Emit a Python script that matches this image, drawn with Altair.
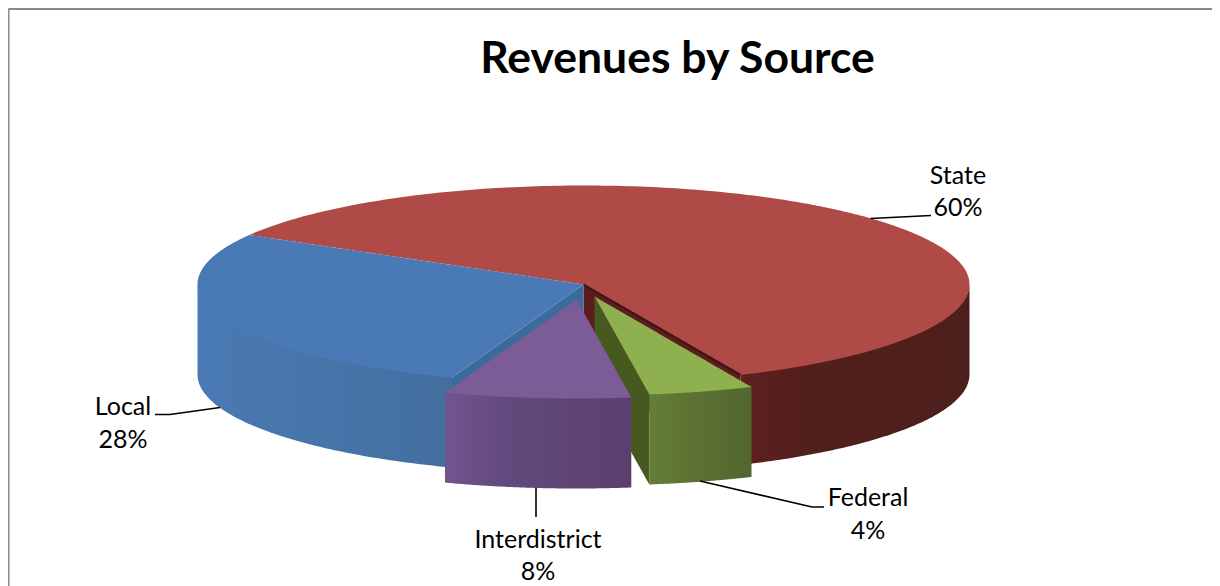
import math
import altair as alt

# ---- data
sources = ["State", "Federal", "Interdistrict", "Local"]
shares = [60.0, 4.4, 7.8, 27.8]

# ---- pie styling and layout
top_colors = {"State": "#b04a46", "Federal": "#8fb04f", "Interdistrict": "#7b5c97", "Local": "#4a7ab5"}
wall_stops = {
    "State": ["#5e2020", "#511f1c", "#4d1f1c"],
    "Federal": ["#647e38", "#5e7534", "#53662e"],
    "Interdistrict": ["#72558f", "#634a7e", "#5a406f"],
    "Local": ["#4a7ab4", "#4877ae", "#436f9f"],
}
cut_colors = {"State": "#5c1c1e", "Federal": "#46591f", "Local": "#3b6a9c"}
explode = {"State": (0, 0), "Federal": (11, 12), "Interdistrict": (-7, 15), "Local": (0, 0)}
CX, CY, RX, RY, DEPTH = 583.5, 284.5, 386.0, 99.0, 90.0
START_ANGLE = 150.0
FONT = "Lato"

# labels: centre x, first-line y, second-line y
label_layout = {
    "State": (958, 176, 208),
    "Local": (123, 407, 440),
    "Interdistrict": (538, 540, 572),
    "Federal": (868, 498, 531),
}
leaders = {
    "State": [(870.5, 218.5), (931, 215.5)],
    "Local": [(155, 414.5), (170, 414.5), (220, 407.5)],
    "Interdistrict": [(536, 488), (536, 517)],
    "Federal": [(700, 481), (812, 507), (824, 507)],
}
frame = {"left": [(8.5, 9), (8.5, 586)], "top": [(8.5, 9), (1212, 9)]}

# ---- slice angles follow from the shares
spans = {}
a = START_ANGLE
for name, share in zip(sources, shares):
    b = a - share * 3.6
    spans[name] = (a, b)
    a = b


def rim(name, deg, depth=0.0):
    dx, dy = explode[name]
    t = math.radians(deg)
    return (CX + dx + RX * math.cos(t), CY + dy - RY * math.sin(t) + depth)


def apex(name, depth=0.0):
    dx, dy = explode[name]
    return (CX + dx, CY + dy + depth)


def arc(name, a0, a1, depth=0.0, n=90):
    return [rim(name, a0 + (a1 - a0) * i / n, depth) for i in range(n + 1)]


def to_area(poly):
    """Turn a polygon into x / y / y2 rows, one per vertical cross-section."""
    xs = sorted({round(p[0], 3) for p in poly})
    rows = []
    m = len(poly)
    for x in xs:
        ys = []
        for i in range(m):
            (x0, y0), (x1, y1) = poly[i], poly[(i + 1) % m]
            lo, hi = min(x0, x1), max(x0, x1)
            if lo - 0.002 <= x <= hi + 0.002:
                if abs(x1 - x0) < 1e-6:
                    ys += [y0, y1]
                else:
                    f = min(1, max(0, (x - x0) / (x1 - x0)))
                    ys.append(y0 + f * (y1 - y0))
        rows.append({"x": x, "y": min(ys), "y2": max(ys)})
    return rows


X = alt.X("x:Q", scale=alt.Scale(domain=[8, 1212], nice=False, zero=False), axis=None)
Y = alt.Y("y:Q", scale=alt.Scale(domain=[586, 8], nice=False, zero=False), axis=None)


def area(poly, fill):
    return (
        alt.Chart(alt.Data(values=to_area(poly)))
        .mark_area(fill=fill, stroke=None, interpolate="linear")
        .encode(x=X, y=Y, y2="y2:Q")
    )


def gradient(name):
    c = wall_stops[name]
    return alt.Gradient(
        gradient="linear", x1=0, y1=0, x2=1, y2=0,
        stops=[alt.GradientStop(offset=0, color=c[0]),
               alt.GradientStop(offset=0.3, color=c[1]),
               alt.GradientStop(offset=1, color=c[2])],
    )


def wall(name, a0, a1):
    # the upper edge runs 1px under the slice's top so no seam shows along the rim
    return area(arc(name, a0, a1, -1.0) + arc(name, a1, a0, DEPTH), gradient(name))


def cut(name, deg):
    poly = [apex(name), rim(name, deg), rim(name, deg, DEPTH), apex(name, DEPTH)]
    return area(poly, cut_colors[name])


def top(name):
    a0, a1 = spans[name]
    return area([apex(name)] + arc(name, a0, a1, n=240), top_colors[name])


def polyline(points, color, width):
    rows = [{"x": p[0], "y": p[1], "i": i} for i, p in enumerate(points)]
    return (
        alt.Chart(alt.Data(values=rows))
        .mark_line(color=color, strokeWidth=width, interpolate="linear")
        .encode(x=X, y=Y, order="i:Q")
    )


layers = []
# main body, back to front
layers.append(wall("State", 0, spans["State"][1]))
layers.append(cut("State", spans["State"][1]))
layers.append(wall("Local", -180, spans["Interdistrict"][1]))
layers.append(cut("Local", spans["Interdistrict"][1]))
layers.append(top("State"))
layers.append(top("Local"))
layers.append(polyline([apex("State"), rim("State", spans["State"][1])], "#3a1414", 2))
# exploded slices
layers.append(cut("Federal", spans["Federal"][1]))
layers.append(wall("Federal", spans["Federal"][0], spans["Federal"][1]))
layers.append(top("Federal"))
layers.append(wall("Interdistrict", spans["Interdistrict"][0], spans["Interdistrict"][1]))
layers.append(top("Interdistrict"))

for pts in leaders.values():
    layers.append(polyline(pts, "#000000", 1.6))
for pts in frame.values():
    layers.append(polyline(pts, "#8a8a8a", 2))

label_rows = []
for name, share in zip(sources, shares):
    cx, y1, y2 = label_layout[name]
    label_rows.append({"x": cx, "y": y1, "t": name})
    label_rows.append({"x": cx, "y": y2, "t": f"{round(share)}%"})

layers.append(
    alt.Chart(alt.Data(values=label_rows))
    .mark_text(font=FONT, fontSize=25, color="#000000", align="center", baseline="middle")
    .encode(x=X, y=Y, text="t:N")
)

chart = (
    alt.layer(*layers)
    .properties(
        width=1204,
        height=578,
        padding=0,
        autosize=alt.AutoSizeParams(type="none"),
        title=alt.TitleParams(
            text="Revenues by Source",
            font=FONT,
            fontSize=44.5,
            fontWeight="bold",
            color="#000000",
            anchor="middle",
            frame="group",
            dx=67.5,
            offset=-112,
            baseline="alphabetic",
        ),
    )
    .configure_view(stroke=None)
    .configure(background="#ffffff")
)

chart.save("out.html", embed_options={"renderer": "svg", "actions": False})
